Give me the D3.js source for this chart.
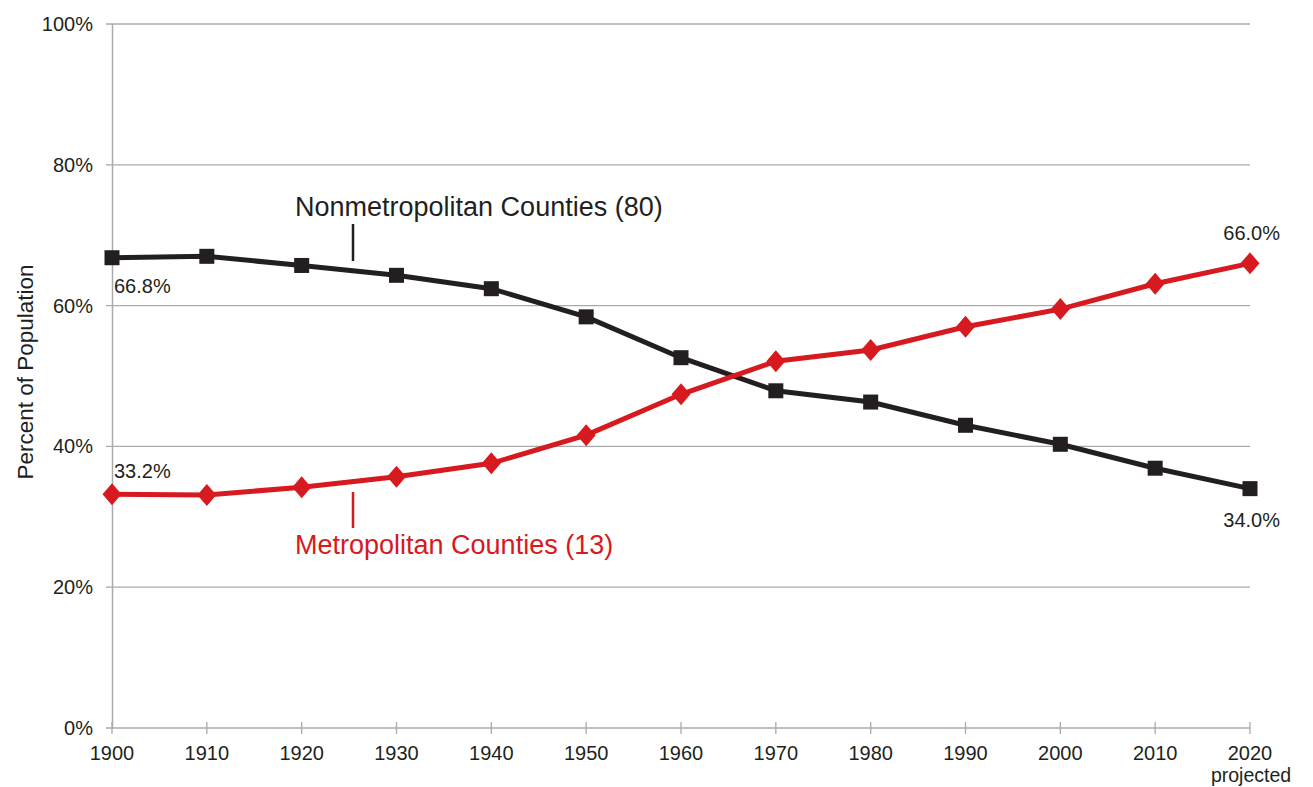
<!DOCTYPE html>
<html><head><meta charset="utf-8">
<script src="https://cdn.jsdelivr.net/npm/d3@7"></script>
<style>body{margin:0;background:#fff}svg{display:block;font-family:"Liberation Sans",Arial,sans-serif}</style>
</head><body>
<svg id="c" width="1313" height="787"></svg>
<script>
const years = [1900,1910,1920,1930,1940,1950,1960,1970,1980,1990,2000,2010,2020];
const nonmetro = [66.8,67.0,65.7,64.3,62.4,58.4,52.6,47.9,46.3,43.0,40.3,36.9,34.0];
const metro = [33.2,33.1,34.2,35.7,37.6,41.6,47.4,52.1,53.7,57.0,59.5,63.1,66.0];
const yTicks = [0,20,40,60,80,100];

const svg = d3.select("#c");
const x = d3.scaleLinear().domain([1900,2020]).range([112,1250]);
const y = d3.scaleLinear().domain([0,100]).range([728,24]);
const black = "#231f20", red = "#d71920", grid = "#aaaaaa", txt = "#231f20";

// gridlines
svg.append("g").selectAll("line").data(yTicks).join("line")
  .attr("x1",106).attr("x2",1250).attr("y1",d=>y(d)).attr("y2",d=>y(d))
  .attr("stroke",grid).attr("stroke-width",1.3);
// y axis line
svg.append("line").attr("x1",112.5).attr("x2",112.5).attr("y1",y(100)).attr("y2",y(0)).attr("stroke",grid).attr("stroke-width",1.5);
// x ticks
svg.append("g").selectAll("line").data(years).join("line")
  .attr("x1",d=>x(d)).attr("x2",d=>x(d)).attr("y1",722).attr("y2",734)
  .attr("stroke",grid).attr("stroke-width",1.3);

// y labels
svg.append("g").selectAll("text").data(yTicks).join("text")
  .attr("x",93).attr("y",d=>y(d)+7).attr("text-anchor","end")
  .attr("font-size",20).attr("fill",txt).text(d=>d+"%");
// x labels
svg.append("g").selectAll("text").data(years).join("text")
  .attr("x",d=>x(d)).attr("y",760).attr("text-anchor","middle")
  .attr("font-size",20).attr("fill",txt).text(d=>d);
svg.append("text").attr("x",x(2020)+1).attr("y",782).attr("text-anchor","middle")
  .attr("font-size",19.5).attr("fill",txt).text("projected");
// y title
svg.append("text").attr("transform","translate(33,372) rotate(-90)")
  .attr("text-anchor","middle").attr("font-size",22.5).attr("fill",txt).text("Percent of Population");

const line = d3.line().x((d,i)=>x(years[i])).y(d=>y(d));
svg.append("path").datum(nonmetro).attr("d",line).attr("fill","none").attr("stroke",black).attr("stroke-width",5);
svg.append("path").datum(metro).attr("d",line).attr("fill","none").attr("stroke",red).attr("stroke-width",5);

// markers
svg.append("g").selectAll("rect").data(nonmetro).join("rect")
  .attr("x",(d,i)=>x(years[i])-7.5).attr("y",d=>y(d)-7.5).attr("width",15).attr("height",15).attr("fill",black);
const diamondPath = "M0,-11L9.5,0L0,11L-9.5,0Z";
svg.append("g").selectAll("path").data(metro).join("path")
  .attr("d",diamondPath)
  .attr("transform",(d,i)=>`translate(${x(years[i])},${y(d)})`).attr("fill",red);

// series labels
svg.append("text").attr("x",295).attr("y",216).attr("font-size",27).attr("fill",black).text("Nonmetropolitan Counties (80)");
svg.append("line").attr("x1",353).attr("x2",353).attr("y1",224).attr("y2",261).attr("stroke",black).attr("stroke-width",2.5);
svg.append("text").attr("x",295).attr("y",554).attr("font-size",27).attr("fill",red).text("Metropolitan Counties (13)");
svg.append("line").attr("x1",353).attr("x2",353).attr("y1",492).attr("y2",528).attr("stroke",red).attr("stroke-width",2.5);

// value labels
const vl = [
  {t:"66.8%", x:x(1900)+2, y:293, a:"start"},
  {t:"33.2%", x:x(1900)+2, y:478, a:"start"},
  {t:"66.0%", x:1280, y:240, a:"end"},
  {t:"34.0%", x:1280, y:527, a:"end"}
];
svg.append("g").selectAll("text").data(vl).join("text")
  .attr("x",d=>d.x).attr("y",d=>d.y).attr("text-anchor",d=>d.a)
  .attr("font-size",20).attr("fill",txt).text(d=>d.t);
</script>
</body></html>
